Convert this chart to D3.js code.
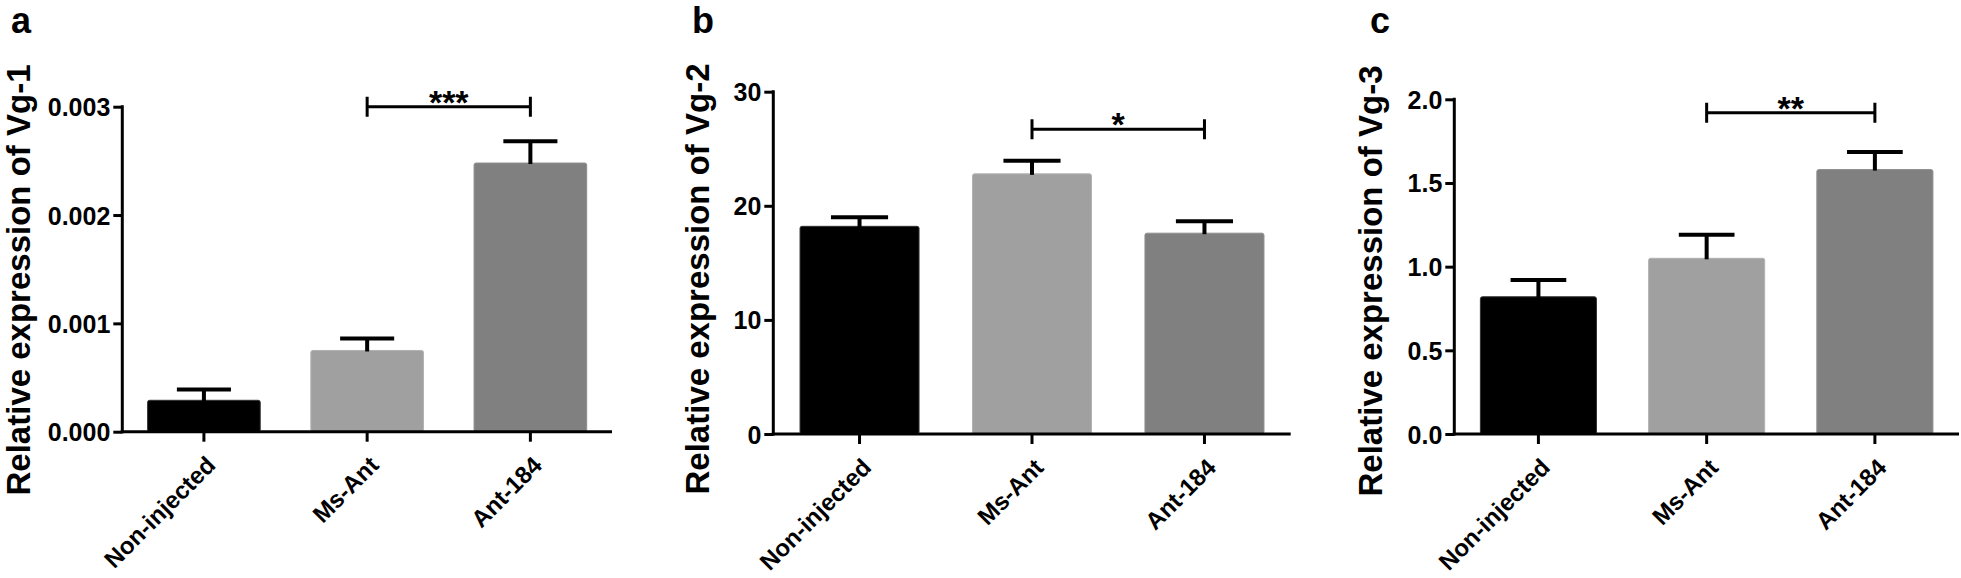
<!DOCTYPE html>
<html>
<head>
<meta charset="utf-8">
<script src="https://cdn.jsdelivr.net/npm/d3@7"></script>
<style>
  html, body { margin: 0; padding: 0; background: #ffffff; }
  svg { display: block; }
  text { font-family: "Liberation Sans", Arial, Helvetica, sans-serif; font-weight: bold; fill: #000; }
</style>
</head>
<body>
<script>
// ---------------- DATA ----------------
const categories = ["Non-injected", "Ms-Ant", "Ant-184"];

const vg1Mean = [0.00029, 0.00075, 0.00248];
const vg1Sem  = [0.00010, 0.00011, 0.00020];

const vg2Mean = [18.2, 22.8, 17.6];
const vg2Sem  = [0.8, 1.15, 1.05];

const vg3Mean = [0.82, 1.05, 1.58];
const vg3Sem  = [0.10, 0.14, 0.105];

const vg1Ticks = [0, 0.001, 0.002, 0.003];
const vg2Ticks = [0, 10, 20, 30];
const vg3Ticks = [0, 0.5, 1.0, 1.5, 2.0];

const vg1TickLabels = ["0.000", "0.001", "0.002", "0.003"];
const vg2TickLabels = ["0", "10", "20", "30"];
const vg3TickLabels = ["0.0", "0.5", "1.0", "1.5", "2.0"];

const yMax = [0.003, 30, 2.0];

const panelLetters = ["a", "b", "c"];
const yTitles = ["Relative expression of Vg-1", "Relative expression of Vg-2", "Relative expression of Vg-3"];

// significance brackets between categories
const sigFrom   = ["Ms-Ant", "Ms-Ant", "Ms-Ant"];
const sigTo     = ["Ant-184", "Ant-184", "Ant-184"];
const sigLevel  = [0.003, 26.7, 1.92];
const sigLabels = ["***", "*", "**"];

const barColors = ["#000000", "#a0a0a0", "#808080"];

// ---------------- LAYOUT ----------------
const W = 1961, H = 578;
const layout = [
  { x0: 122.3, x1: 612,    yTop: 106.7, yBot: 431.7, letterX: 11,   titleX: 30,   titleY: 280 },
  { x0: 773.3, x1: 1290.7, yTop: 91.7,  yBot: 434,   letterX: 692,  titleX: 709,  titleY: 279 },
  { x0: 1454.3, x1: 1959,  yTop: 99.3,  yBot: 434,   letterX: 1370, titleX: 1382, titleY: 281 }
];

const means = [vg1Mean, vg2Mean, vg3Mean];
const sems = [vg1Sem, vg2Sem, vg3Sem];
const ticks = [vg1Ticks, vg2Ticks, vg3Ticks];
const tickLabels = [vg1TickLabels, vg2TickLabels, vg3TickLabels];

const svg = d3.select("body").append("svg")
  .attr("width", W).attr("height", H)
  .attr("viewBox", `0 0 ${W} ${H}`);

layout.forEach((L, p) => {
  const g = svg.append("g");
  const x = d3.scaleBand().domain(categories).range([L.x0, L.x1])
    .paddingInner(0.31).paddingOuter(0.155);
  const y = d3.scaleLinear().domain([0, yMax[p]]).range([L.yBot, L.yTop]);

  const rows = categories.map((c, i) => ({ c, i, m: means[p][i], e: sems[p][i] }));

  // bars
  g.selectAll("rect.bar").data(rows).join("rect")
    .attr("class", "bar")
    .attr("x", d => x(d.c))
    .attr("y", d => y(d.m))
    .attr("width", x.bandwidth())
    .attr("height", d => y(0) - y(d.m))
    .attr("rx", 2).attr("ry", 2)
    .attr("fill", d => barColors[d.i])
    .attr("stroke", d => d.i === 0 ? "#333" : d3.color(barColors[d.i]).brighter(0.3))
    .attr("stroke-width", 1);

  // error bars (upper only)
  const capW = x.bandwidth() * 0.48;
  const eb = g.selectAll("g.eb").data(rows).join("g").attr("class", "eb");
  eb.append("line")
    .attr("x1", d => x(d.c) + x.bandwidth() / 2)
    .attr("x2", d => x(d.c) + x.bandwidth() / 2)
    .attr("y1", d => y(d.m) + 1)
    .attr("y2", d => y(d.m + d.e))
    .attr("stroke", "#000").attr("stroke-width", 4);
  eb.append("line")
    .attr("x1", d => x(d.c) + x.bandwidth() / 2 - capW / 2)
    .attr("x2", d => x(d.c) + x.bandwidth() / 2 + capW / 2)
    .attr("y1", d => y(d.m + d.e))
    .attr("y2", d => y(d.m + d.e))
    .attr("stroke", "#000").attr("stroke-width", 4);

  // y axis
  const yAxis = d3.axisLeft(y).tickValues(ticks[p])
    .tickFormat((d, i) => tickLabels[p][i])
    .tickSize(9).tickPadding(3).tickSizeOuter(0);
  const ya = g.append("g").attr("transform", `translate(${L.x0},0)`).call(yAxis);
  ya.select(".domain").attr("stroke", "#000").attr("stroke-width", 3)
    .attr("d", `M0,${L.yTop - 1.5}V${L.yBot + 1.5}`);
  ya.selectAll(".tick line").attr("stroke", "#000").attr("stroke-width", 3);
  ya.selectAll(".tick text").style("font-size", "25px").style("font-family", "'Liberation Sans', Arial, sans-serif")
    .style("font-weight", "bold").attr("fill", "#000").attr("dy", "0.36em");

  // x axis
  const xAxis = d3.axisBottom(x).tickSize(10).tickSizeOuter(0).tickFormat("");
  const xa = g.append("g").attr("transform", `translate(0,${L.yBot})`).call(xAxis);
  xa.select(".domain").attr("stroke", "#000").attr("stroke-width", 3)
    .attr("d", `M${L.x0 - 1.5},0H${L.x1}`);
  xa.selectAll(".tick line").attr("stroke", "#000").attr("stroke-width", 3);

  // rotated x labels
  g.selectAll("text.xl").data(categories).join("text")
    .attr("class", "xl")
    .attr("text-anchor", "end")
    .attr("transform", d => `translate(${x(d) + x.bandwidth() / 2 + 13},${L.yBot + 35}) rotate(-45)`)
    .style("font-size", "24px")
    .text(d => d);

  // significance bracket
  const xa1 = x(sigFrom[p]) + x.bandwidth() / 2;
  const xa2 = x(sigTo[p]) + x.bandwidth() / 2;
  const sy = y(sigLevel[p]);
  g.append("path")
    .attr("d", `M${xa1},${sy}H${xa2}M${xa1},${sy - 10}V${sy + 10}M${xa2},${sy - 10}V${sy + 10}`)
    .attr("fill", "none").attr("stroke", "#000").attr("stroke-width", 3);
  g.append("text")
    .attr("x", (xa1 + xa2) / 2).attr("y", sy + 7)
    .attr("text-anchor", "middle")
    .style("font-size", "34px")
    .text(sigLabels[p]);

  // y title
  g.append("text")
    .attr("transform", `translate(${L.titleX},${L.titleY}) rotate(-90)`)
    .attr("text-anchor", "middle")
    .style("font-size", "33px")
    .text(yTitles[p]);

  // panel letter
  g.append("text")
    .attr("x", L.letterX).attr("y", 33)
    .style("font-size", "36px")
    .text(panelLetters[p]);
});
</script>
</body>
</html>
